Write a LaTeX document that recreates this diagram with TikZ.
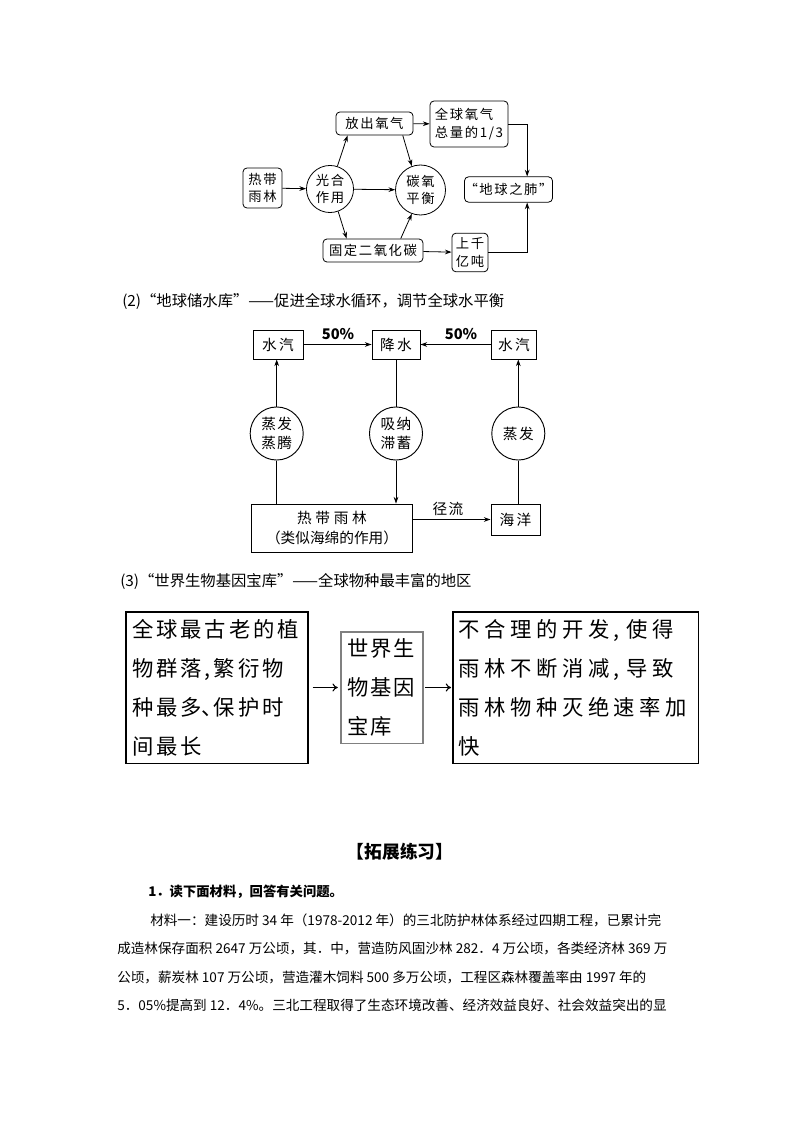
\documentclass[tikz,border=0pt]{standalone}
\usepackage{fontspec}
\setmainfont{Noto Sans CJK SC}
\usetikzlibrary{arrows.meta}
\newcommand{\tracking}[1]{\addfontfeature{LetterSpace=#1}}
\newcommand{\dunhao}{\makebox[0.55em][l]{、}}

\begin{document}
\begin{tikzpicture}[x=0.75pt,y=-0.75pt,
	>={Stealth[length=5pt,width=3.5pt]},
	every node/.style={inner sep=0pt},
	rbox/.style={draw, rounded corners=3pt, line width=0.6pt, align=center,
		font=\fontsize{10}{12.8}\selectfont\tracking{12}},
	rcirc/.style={draw, circle, line width=0.6pt, align=center,
		font=\fontsize{10}{12.8}\selectfont\tracking{12}},
	wbox/.style={draw, line width=0.7pt, minimum height=21.8pt, align=center,
		font=\fontsize{11}{14}\selectfont\tracking{15}},
	wcirc/.style={draw, circle, line width=0.7pt, minimum size=39.8pt, align=center,
		font=\fontsize{11}{14}\selectfont\tracking{10}},
	bigbox/.style={draw, line width=0.8pt, minimum height=113.3pt, align=left,
		inner xsep=4.5pt, font=\fontsize{16}{29.2}\selectfont},
	head/.style={anchor=west, font=\fontsize{11.5}{14}\selectfont},
	para/.style={anchor=west, font=\fontsize{10.2}{13}\selectfont},
	line/.style={line width=0.6pt},
	thinarrow/.style={line width=0.8pt, -{To[length=4pt,width=6pt]}}]

	\useasboundingbox[fill=white] (0,0) rectangle (794,1123);

	% (1) 地球之肺
	\node	(rf) at (262.5,188) [rbox, minimum width=29.3pt, minimum height=30pt] {热带\\雨林};
	\node	(gh) at (330,189) [rcirc, minimum size=35.3pt] {光合\\作用};
	\node	(ty) at (420.5,190) [rcirc, minimum size=37.5pt] {碳氧\\平衡};
	\node	(fc) at (374.5,123.5) [rbox, minimum width=57.8pt, minimum height=17.3pt] {放出氧气};
	\node	(qq) at (469,124) [rbox, minimum width=58.5pt, minimum height=34.5pt, align=left] {全球氧气\\总量的1/3};
	\node	(fei) at (508.5,189.5) [rbox, minimum width=65pt, minimum height=19pt] {“地球之肺”};
	\node	(gd) at (373,250.5) [rbox, minimum width=75pt, minimum height=17.3pt] {固定二氧化碳};
	\node	(sq) at (470,252.5) [rbox, minimum width=27pt, minimum height=29pt] {上千\\亿吨};

	\draw[line]
	(rf) edge[->] (gh)
	(gh) edge[->] (ty)
	(fc) edge[->] (qq)
	(gd) edge[->] (sq)
	(gh.72) edge[->] ([xshift=9pt]fc.south west)
	([xshift=-8pt]fc.south east) edge[->] (ty.110)
	(gh.-70) edge[->] ([xshift=18pt]gd.north west)
	([xshift=-17pt]gd.north east) edge[->] (ty.-110)
	;
	\draw[line,->] (qq.east) -| ([xshift=14pt]fei.north);
	\draw[line,->] (sq.east) -| ([xshift=14pt]fei.south);

	% (2) 地球储水库
	\node	(h2) at (122,301) [head] {(2)“地球储水库”——促进全球水循环，调节全球水平衡};
	\node	(hq1) at (278,344.5) [wbox, minimum width=37.5pt] {水汽};
	\node	(js) at (396,344.5) [wbox, minimum width=36pt] {降水};
	\node	(hq2) at (514,344.5) [wbox, minimum width=33.8pt] {水汽};
	\node	(p1) at (338,334) [font=\fontsize{11}{13}\selectfont\bfseries] {50\%};
	\node	(p2) at (461,334) [font=\fontsize{11}{13}\selectfont\bfseries] {50\%};
	\node	(c1) at (276.7,433.5) [wcirc] {蒸发\\蒸腾};
	\node	(c2) at (396,433.5) [wcirc] {吸纳\\滞蓄};
	\node	(c3) at (518.3,433.5) [wcirc] {蒸发};
	\node	(yl) at (332,528) [wbox, minimum width=120.8pt, minimum height=36pt,
		font=\fontsize{11}{14.5}\selectfont] {{\tracking{25}热带雨林}\\（类似海绵的作用）};
	\node	(hy) at (515.5,519.5) [wbox, minimum width=36.8pt, minimum height=23.3pt] {海洋};
	\node	(jl) at (448,509) [font=\fontsize{11}{13}\selectfont\tracking{10}] {径流};

	\draw[line]
	(hq1) edge[->] (js)
	(hq2) edge[->] (js)
	(c1.north) edge[->] (c1.north |- hq1.south)
	(c1.south) edge (c1.south |- yl.north)
	(js.south) edge (c2.north)
	(c2.south) edge[->] (c2.south |- yl.north)
	(c3.south) edge (c3.south |- hy.north)
	(c3.north) edge[->] (c3.north |- hq2.south)
	(yl.east |- hy.west) edge[->] (hy.west)
	;

	% (3) 世界生物基因宝库
	\node	(h3) at (120,581) [head] {(3)“世界生物基因宝库”——全球物种最丰富的地区};
	\node	(b1) at (217,687.5) [bigbox, text width=127.5pt, minimum width=136.5pt,
		font=\fontsize{16}{29.2}\selectfont\tracking{14}] {全球最古老的植\\物群落,繁衍物\\种最多\dunhao 保护时\\间最长};
	\node	(b2) at (382,687.5) [bigbox, draw=gray, text width=52.5pt, minimum width=61.5pt, minimum height=83.3pt,
		font=\fontsize{16}{29.2}\selectfont\tracking{10}] {世界生\\物基因\\宝库};
	\node	(b3) at (575.5,687.5) [bigbox, text width=174.8pt, minimum width=183.8pt,
		font=\fontsize{16}{29.2}\selectfont\tracking{21}] {不合理的开发, 使得\\雨林不断消减, 导致\\雨林物种灭绝速率加\\快};

	\draw[thinarrow, shorten <=3pt, shorten >=2pt] (b1) -- (b2);
	\draw[thinarrow, shorten <=1pt, shorten >=1pt] (b2) -- (b3);

	% 拓展练习
	\node	(tz) at (400,852) [font=\fontsize{13.3}{16}\selectfont\bfseries] {【拓展练习】};
	\node	(q1) at (148,892) [anchor=west, font=\fontsize{10}{13}\selectfont\bfseries] {1．读下面材料，回答有关问题。};
	\node	(l1) at (150,920) [para] {材料一：建设历时 34 年（1978-2012 年）的三北防护林体系经过四期工程，已累计完};
	\node	(l2) at (117,948) [para] {成造林保存面积 2647 万公顷，其．中，营造防风固沙林 282．4 万公顷，各类经济林 369 万};
	\node	(l3) at (117,977) [para] {公顷，薪炭林 107 万公顷，营造灌木饲料 500 多万公顷，工程区森林覆盖率由 1997 年的};
	\node	(l4) at (117,1005) [para] {5．05\%提高到 12．4\%。三北工程取得了生态环境改善、经济效益良好、社会效益突出的显};
\end{tikzpicture}
\end{document}
